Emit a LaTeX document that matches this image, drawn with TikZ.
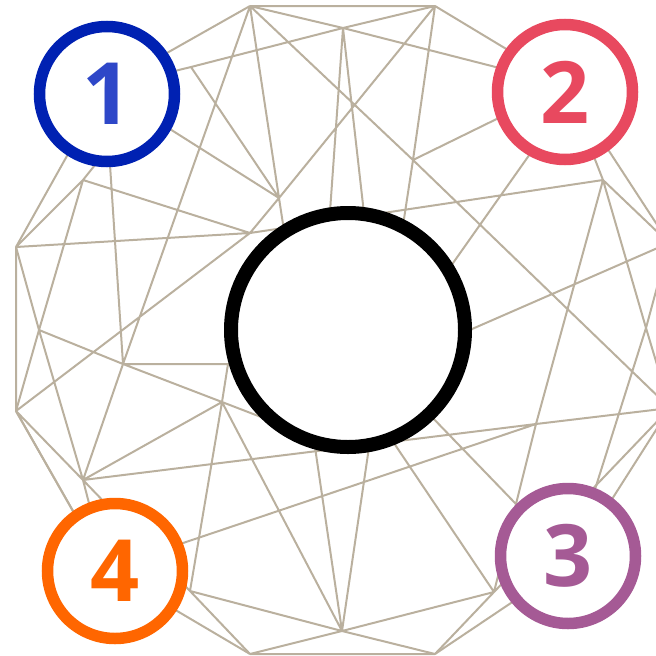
\documentclass[tikz,border=0pt]{standalone}
\usepackage{fontspec}
\setmainfont{Open Sans}
\definecolor{mesh}{RGB}{186,176,158}
\definecolor{cone}{RGB}{0,33,178}
\definecolor{conetxt}{RGB}{46,71,200}
\definecolor{ctwo}{RGB}{232,73,95}
\definecolor{cthree}{RGB}{165,90,149}
\definecolor{cfour}{RGB}{255,102,0}
\tikzset{
  edge/.style={draw=mesh,line width=2pt},
  ring/.style={circle,fill=white,line width=11.5pt,minimum size=135pt,inner sep=0pt},
  bigring/.style={circle,fill=white,draw=black,line width=14pt,minimum size=234pt,inner sep=0pt},
  digit/.style={font=\fontsize{86}{86}\selectfont\bfseries,inner sep=0pt}
}
\begin{document}
\begin{tikzpicture}[x=1pt,y=-1pt]
\useasboundingbox (0,0) rectangle (656,656);
% vertices
\coordinate (A) at (250,6);
\coordinate (U) at (435,6);
\coordinate (T) at (343,28);
\coordinate (B) at (191,67);
\coordinate (C) at (279,198);
\coordinate (S) at (413,160);
\coordinate (D) at (250,233);
\coordinate (F) at (83,180);
\coordinate (E) at (16,247);
\coordinate (G) at (39,330);
\coordinate (H) at (123,364);
\coordinate (L) at (228,364);
\coordinate (I) at (16,411);
\coordinate (K) at (222,402);
\coordinate (J) at (83,480);
\coordinate (M) at (190,591);
\coordinate (W) at (250,654);
\coordinate (N) at (342,631);
\coordinate (X) at (435,654);
\coordinate (O) at (494,592);
\coordinate (P) at (536,424);
\coordinate (R) at (603,180);
\coordinate (Rm) at (646,328);
\coordinate (RU) at (669,243);
\coordinate (RL) at (670,408);
% hidden vertices (covered by the circles)
\coordinate (Z1) at (105,88);
\coordinate (Z1b) at (127,125);
\coordinate (Z2) at (566,85);
\coordinate (Z3) at (572,562);
\coordinate (Z4) at (106,569);
\coordinate (Z2b) at (561,110);
\coordinate (h1) at (328,240);
\coordinate (h2) at (367,240);
\coordinate (h3) at (287,250);
\coordinate (h4) at (400,245);
\coordinate (h5) at (434,290);
\coordinate (h6) at (440,343);
\coordinate (h7) at (311,420);
\coordinate (h8) at (373,420);
\coordinate (h9) at (365,400);
\coordinate (h10) at (400,384);
\coordinate (h11) at (280,364);
\coordinate (h12) at (300,432);
% edges
\draw[edge] (A)--(U) (U)--(Z2) (Z2)--(RU) (RU)--(RL) (RL)--(O) (RL)--(Z3)
  (Z3)--(X) (X)--(W) (W)--(Z4) (Z4)--(I) (I)--(E) (E)--(Z1) (Z1)--(A);
\draw[edge] (A)--(T) (A)--(H) (A)--(C) (A)--(S) (S)--(RL)
  (B)--(T) (B)--(Z1) (B)--(C) (T)--(U) (T)--(Z2) (T)--(h1) (T)--(h2)
  (C)--(U) (C)--(Z1) (C)--(h3) (C)--(D) (U)--(S) (S)--(Z2) (S)--(h4)
  (F)--(Z1b) (F)--(E) (F)--(G) (F)--(D)
  (D)--(E) (D)--(I) (D)--(R)
  (G)--(E) (G)--(I) (G)--(J) (G)--(H)
  (H)--(Z1) (H)--(K) (H)--(L) (H)--(J) (L)--(h11) (L)--(K) (K)--(h12)
  (I)--(J) (I)--(Z4)
  (J)--(K) (J)--(P) (J)--(Z4) (J)--(M)
  (K)--(M) (K)--(N)
  (M)--(N) (M)--(W)
  (N)--(W) (N)--(X) (N)--(O) (N)--(h7) (N)--(h8)
  (O)--(X) (O)--(P) (O)--(h9)
  (P)--(R) (P)--(RL) (P)--(Z4)
  (R)--(Z2) (R)--(RU) (R)--(Rm)
  (Rm)--(Z3) (Rm)--(RU) (Rm)--(RL)
  (RU)--(h6) (Z2b)--(h5) (h10)--(Z3);
% circles
\node[bigring] (ctr) at (348,330) {};
\node[ring,draw=cone] (c1) at (107,94) {};
\node[ring,draw=ctwo] (c2) at (565,92) {};
\node[ring,draw=cthree] (c3) at (568,556) {};
\node[ring,draw=cfour] (c4) at (115,571) {};
\node[digit,text=conetxt] at (c1) {1};
\node[digit,text=ctwo] at (c2) {2};
\node[digit,text=cthree] at (c3) {3};
\node[digit,text=cfour] at (c4) {4};
\end{tikzpicture}
\end{document}
